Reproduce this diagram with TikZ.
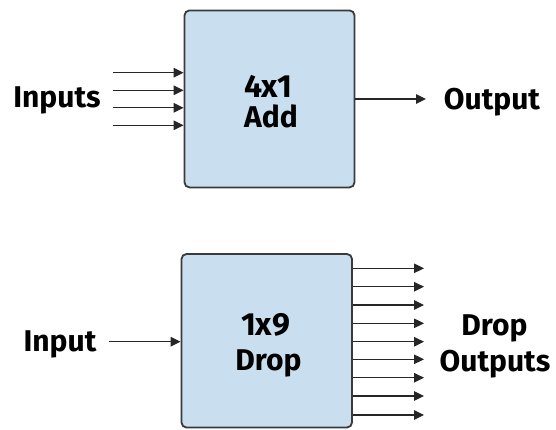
\documentclass[tikz,border=0pt]{standalone}
\usepackage{fontspec}
\setmainfont{Fira Sans}
\usetikzlibrary{arrows.meta}
\definecolor{boxfill}{HTML}{C9DEEE}
\definecolor{boxline}{HTML}{3A3A3A}
\begin{document}
\begin{tikzpicture}[x=1pt,y=-1pt,
  blockbox/.style={draw=boxline,fill=boxfill,line width=1.8pt,rounded corners=5pt,inner sep=0pt},
  lbl/.style={font=\bfseries\fontsize{30}{30}\selectfont,anchor=base,inner sep=0pt},
  biglbl/.style={lbl,font=\bfseries\fontsize{32}{32}\selectfont},
  sig/.style={line width=1.2pt,draw=black!85,-{Triangle[length=10pt,width=9.5pt]}}]
\useasboundingbox (0,0) rectangle (556,429);
% top block
\node[blockbox,minimum width=170pt,minimum height=177pt] (add) at (269.5,98.9) {};
\node[biglbl] (t41) at (268.5,97) {4x1};
\node[lbl] (tadd) at (271,127) {Add};
\node[lbl] (inputs) at (57,107) {Inputs};
\node[lbl] (output) at (492,109) {Output};
\foreach \i/\y in {1/72.7,2/90.3,3/107.8,4/125.3}{
  \coordinate (in\i) at (113,\y);
  \draw[sig] (in\i) -- (add.west |- in\i);
}
\coordinate (outend) at (426,99);
\draw[sig] (add.east |- outend) -- (outend);
% bottom block
\node[blockbox,minimum width=170.5pt,minimum height=173.5pt] (drop) at (266.75,340.75) {};
\node[biglbl] (t19) at (265.5,335.7) {1x9};
\node[lbl] (tdrop) at (268.5,370) {Drop};
\node[lbl] (input) at (60,351) {Input};
\node[lbl] (odrop) at (494.5,335.7) {Drop};
\node[lbl] (oouts) at (495,371.7) {Outputs};
\coordinate (instart) at (109,341.7);
\draw[sig] (instart) -- (drop.west |- instart);
\foreach \i/\y in {1/268.3,2/286.7,3/305,4/323.3,5/341.7,6/359.3,7/377.7,8/396,9/415}{
  \coordinate (o\i) at (424,\y);
  \draw[sig] (drop.east |- o\i) -- (o\i);
}
\end{tikzpicture}
\end{document}
